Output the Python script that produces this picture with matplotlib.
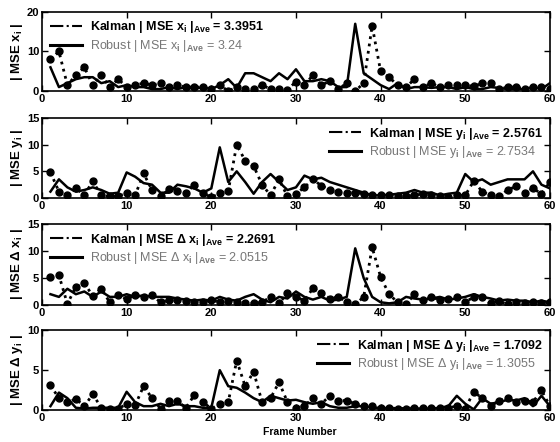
import numpy as np
import matplotlib
matplotlib.use("Agg")
import matplotlib.pyplot as plt
from matplotlib.lines import Line2D

plt.rcParams['font.family'] = ['Liberation Sans', 'DejaVu Sans']
plt.rcParams['mathtext.fontset'] = 'custom'
plt.rcParams['mathtext.rm'] = 'Liberation Sans'
plt.rcParams['mathtext.bf'] = 'Liberation Sans:bold'
plt.rcParams['mathtext.it'] = 'Liberation Sans:italic'
plt.rcParams['mathtext.default'] = 'bf'

frames = np.arange(1, 61)

# per-frame MSE
kalman_x = [8, 10, 1.5, 4, 6, 1.5, 4, 1, 3, 1, 1.5, 2, 1.5, 2, 1, 1.5, 1, 1, 1, 0.5,
            1.5, 0, 1, 0.5, 0.5, 1.5, 0.5, 0.5, 0.3, 2.4, 1.5, 4, 1.5, 2.5, 0.5, 2, 0, 2, 16.5, 5,
            3.5, 1.5, 1, 3, 1, 2, 1, 1.5, 1.5, 1.5, 1.2, 2, 2, 0.5, 1, 1, 0.5, 1, 1, 0.5]
robust_x = [6, 1, 2, 3, 3.5, 3.5, 2, 2.5, 1, 1.5, 1, 1, 0.5, 0.5, 1, 0.5, 1, 0.5, 1, 0.5,
            1.5, 3, 0.8, 4.5, 4.5, 3.5, 2.5, 4.5, 3, 5.5, 2.5, 2.5, 3, 2.5, 1, 1, 17, 4.5, 3, 1.5,
            0.5, 2, 0.5, 1, 1, 0.8, 1, 1, 0.5, 1, 0.5, 0.5, 1, 0.8, 0.5, 0.5, 0.5, 1, 0.5, 2]

kalman_y = [4.8, 1.2, 0.5, 1.8, 0.6, 3.1, 0.5, 0.3, 0.3, 1.0, 0.5, 4.6, 1.5, 0.3, 1.6, 1.3, 0.9, 2.5, 1.0, 0.1,
            0.9, 1.3, 10, 7, 6, 2.5, 0.5, 3.5, 0.3, 0.8, 2.0, 3.5, 2.3, 1.5, 1.2, 1.0, 1.0, 0.8, 0.6, 0.5,
            0.5, 0.3, 0.3, 0.5, 0.8, 0.5, 0.3, 0.2, 0.5, 0.5, 3.2, 1.2, 0.5, 0.3, 1.5, 2.2, 1.0, 1.8, 0.8, 3.0]
robust_y = [1.2, 3.5, 2, 1.2, 1.5, 2, 1.5, 0.8, 1, 4.8, 4, 2.8, 2.5, 1, 1, 2.5, 2.2, 1.8, 1, 1.8,
            9.5, 3, 5, 3, 0.8, 3, 4.5, 3, 1.5, 2, 4.2, 3.5, 3.8, 3, 2.5, 2, 1.5, 1, 0.5, 0.5,
            0.6, 0.8, 1, 1.5, 1, 1, 0.5, 0.8, 1, 4.5, 3, 3.5, 2.5, 3, 3.5, 3.5, 3.5, 5, 2.5, 1.8]

kalman_dx = [5.2, 5.5, 0.2, 3.4, 4, 1.7, 3, 0.5, 1.8, 1.1, 1.8, 1.5, 1.8, 0.5, 0.9, 0.9, 0.7, 0.5, 0.5, 0.9,
             0.5, 0.7, 0.5, 0.3, 0.3, 0.5, 1.5, 0.3, 2.2, 1.5, 0.8, 3.1, 2.2, 1.2, 1.5, 0.5, 0.1, 1.5, 10.7, 5.2,
             2, 0.5, 0.1, 2, 0.9, 1.5, 0.9, 1.2, 1.4, 0.5, 1.5, 1.5, 0.3, 0.7, 0.1, 0.5, 0.3, 0.5, 0.3, 0.5]
robust_dx = [2, 1.5, 3, 2, 2.5, 1.5, 2.5, 1.5, 1.5, 2, 1.5, 1.8, 1.5, 1.5, 1.5, 1.2, 1, 0.8, 1, 0.8,
             1.5, 1, 0.8, 1.5, 2, 1, 0.5, 1.5, 1.2, 2.5, 1.5, 1, 1.5, 0.8, 1, 1.5, 10.5, 5, 1.5, 0.5,
             0.3, 0.5, 1.5, 1.2, 1, 1.2, 1.5, 1, 1.2, 1.5, 2, 1.5, 1.2, 0.8, 1, 0.8, 0.8, 0.5, 0.8, 0.5]

kalman_dy = [3.1, 1.5, 1.0, 1.4, 0.5, 2, 0.3, 0.2, 0.2, 0.75, 0.6, 3, 1.5, 0.2, 1.1, 1.1, 0.3, 1.9, 1.0, 0.2,
             0.75, 1.0, 6.2, 3.0, 4.8, 1.0, 1.5, 3.5, 1.0, 0.3, 0.5, 1.5, 0.8, 1.8, 1.2, 1.2, 0.8, 0.5, 0.5, 0.3,
             0.3, 0.2, 0.2, 0.3, 0.3, 0.3, 0.3, 0.3, 0.5, 0.2, 2.3, 1.5, 0.5, 1.2, 1.5, 1.0, 1.2, 1.0, 2.5, 0.5]
robust_dy = [0.5, 2.2, 1.5, 0.3, 0.2, 0.3, 0.3, 0.3, 0.3, 2.3, 1, 0.5, 0.5, 0.8, 0.5, 0.8, 0.5, 0.5, 0.3, 0.3,
             5, 3, 2.8, 2.2, 1.5, 1.0, 1.8, 1.5, 1.2, 1.3, 1.0, 0.8, 1.0, 0.5, 0.3, 0.3, 0.5, 0.5, 0.3, 0.3,
             0.2, 0.2, 0.2, 0.2, 0.2, 0.2, 0.3, 0.5, 1.8, 0.8, 0.1, 1.5, 0.8, 1.0, 1.3, 1.2, 1.5, 0.5, 1.8, 0.5]

ylabels = ['| MSE x$_i$ |', '| MSE y$_i$ |', '| MSE Δ x$_i$ |', '| MSE Δ y$_i$ |']
quantities = ['x$_i$', 'y$_i$', 'Δ x$_i$', 'Δ y$_i$']
kalman_ave = ['3.3951', '2.5761', '2.2691', '1.7092']
robust_ave = ['3.24', '2.7534', '2.0515', '1.3055']
ymax = [20, 15, 15, 10]
yticks = [[0, 10, 20], [0, 5, 10, 15], [0, 5, 10, 15], [0, 5, 10]]
legend_loc = ['upper left', 'upper right', 'upper left', 'upper right']

kalman_all = [kalman_x, kalman_y, kalman_dx, kalman_dy]
robust_all = [robust_x, robust_y, robust_dx, robust_dy]

# axes boxes in figure fractions [left, bottom, width, height]
boxes = [[0.075, 0.794, 0.907, 0.179],
         [0.075, 0.552, 0.907, 0.181],
         [0.075, 0.310, 0.907, 0.183],
         [0.075, 0.072, 0.907, 0.181]]

fig = plt.figure(figsize=(5.6, 4.42), dpi=100)

for i in range(4):
    ax = fig.add_axes(boxes[i])
    ax.plot(frames, robust_all[i], '-', color='black', lw=1.8, zorder=2)
    ax.plot(frames, kalman_all[i], ':', color='black', lw=2.0, marker='o',
            markersize=5, markerfacecolor='black', markeredgecolor='black', zorder=3)
    ax.set_xlim(0, 60)
    ax.set_ylim(0, ymax[i])
    ax.set_xticks([0, 10, 20, 30, 40, 50, 60])
    ax.set_yticks(yticks[i])
    ax.tick_params(direction='in', length=4, width=1, top=True, right=True,
                   labelsize=8, pad=2)
    for lab in ax.get_xticklabels() + ax.get_yticklabels():
        lab.set_fontweight('bold')
    for sp in ax.spines.values():
        sp.set_linewidth(1.2)
    ax.set_ylabel(ylabels[i], fontsize=9.5, fontweight='bold', labelpad=1)

    handles = [Line2D([], [], color='black', ls='-.', lw=1.5),
               Line2D([], [], color='black', ls='-', lw=2.2)]
    labels = ['Kalman | MSE ' + quantities[i] + ' |$_{Ave}$ = ' + kalman_ave[i],
              'Robust | MSE ' + quantities[i] + ' |$_{Ave}$ = ' + robust_ave[i]]
    leg = ax.legend(handles, labels, loc=legend_loc[i], frameon=False, fontsize=9,
                    handlelength=2.6, handletextpad=0.6, borderaxespad=0.2,
                    labelspacing=0.2)
    txt = leg.get_texts()
    txt[0].set_fontweight('bold')
    txt[1].set_color('#777777')

fig.text(0.535, 0.012, 'Frame Number', ha='center', va='bottom',
         fontsize=7.5, fontweight='bold')

fig.savefig('out.png', dpi=100)
